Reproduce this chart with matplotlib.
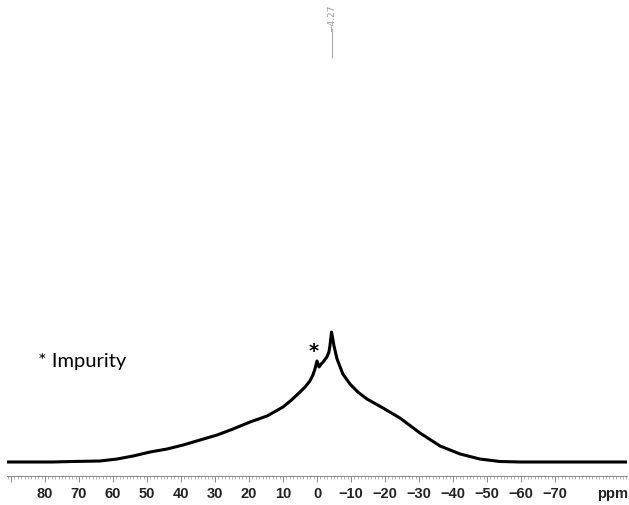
"""Solid-state NMR spectrum with a single broad resonance and an impurity marker."""
import matplotlib
matplotlib.use("Agg")
import matplotlib.pyplot as plt
from matplotlib.ticker import MultipleLocator, FixedLocator, FixedFormatter

# chemical shift (ppm) and intensity
ppm = [91.2, 85.0, 78.0, 72.0, 63.8, 58.8, 54.1, 49.1, 44.1, 39.4, 34.4,
       29.4, 24.7, 19.7, 14.7, 10.0, 7.5, 5.0, 3.5, 2.1, 1.2, 0.6, 0.0,
       -0.6, -1.2, -1.8, -2.9, -3.5, -3.8, -4.27, -4.7, -5.0, -5.9, -7.6,
       -9.7, -12.0, -14.7, -19.4, -24.4, -30.3, -36.2, -42.1, -47.9,
       -53.8, -60.0, -71.5, -80.0, -91.2]
intensity = [0, 0, 0, 0.5, 1, 3, 6, 10, 13, 17, 22,
             27, 33, 40, 46, 55, 62, 70, 75, 81, 87, 93, 101,
             95, 98, 100, 105, 110, 116, 130, 122, 116, 103, 88,
             78, 70, 63, 54, 44, 29, 16, 8, 3,
             0.5, 0, 0, 0, 0]

peak_ppm = -4.27
impurity_ppm = 0.0
major_ticks = [80, 70, 60, 50, 40, 30, 20, 10, 0, -10, -20, -30, -40, -50, -60, -70]
tick_labels = ["80", "70", "60", "50", "40", "30", "20", "10", "0",
               "\u221210", "\u221220", "\u221230", "\u221240", "\u221250",
               "\u221260", "\u221270"]

W, H = 629, 506
fig = plt.figure(figsize=(W / 100, H / 100), dpi=100)
ax = fig.add_axes([7 / W, (H - 477) / H, 620 / W, (477 - 60) / H])

ax.plot(ppm, intensity, color="black", lw=2.2, solid_joinstyle="round")
ax.set_xlim(91.2, -91.2)
ax.set_ylim(-14, 403)

for side in ("top", "left", "right"):
    ax.spines[side].set_visible(False)
ax.spines["bottom"].set_color("#888888")
ax.spines["bottom"].set_linewidth(0.7)
ax.yaxis.set_visible(False)

ax.xaxis.set_major_locator(FixedLocator(major_ticks + [90]))
ax.xaxis.set_major_formatter(FixedFormatter(tick_labels + [""]))
ax.xaxis.set_minor_locator(MultipleLocator(1))
ax.tick_params(axis="x", which="major", length=4, width=0.7, color="#888888",
               pad=3, labelsize=10.5)
ax.tick_params(axis="x", which="minor", length=2, width=0.5, color="#999999")
for lab in ax.get_xticklabels():
    lab.set_fontfamily("Liberation Sans")
    lab.set_fontweight("bold")
    lab.set_color("#222222")

# axis unit sits in the tick label row, in place of the -80 label
fig.text(613 / W, 1 - 494 / H, "ppm", ha="center", va="center",
         fontsize=10.5, fontweight="bold", family="Liberation Sans",
         color="#222222")

# impurity marker and caption
ax.text(impurity_ppm + 0.9, 112, "*", ha="center", va="center", fontsize=14,
        fontweight="bold", family="DejaVu Sans")
fig.text(38 / W, 1 - 362 / H, "* Impurity", ha="left", va="center",
         fontsize=14.5, family="Lato")

# peak pick label at the top
xpk = ax.transData.transform((peak_ppm, 0))[0] / W
fig.lines.append(plt.Line2D([xpk, xpk], [1 - 58 / H, 1 - 30 / H],
                            transform=fig.transFigure, color="#aaaaaa", lw=0.8))
fig.text(xpk, 1 - 5 / H, "\u22124.27", rotation=90, ha="center", va="top",
         fontsize=6.5, color="#999999", family="DejaVu Sans")

fig.savefig("out.png", dpi=100)
